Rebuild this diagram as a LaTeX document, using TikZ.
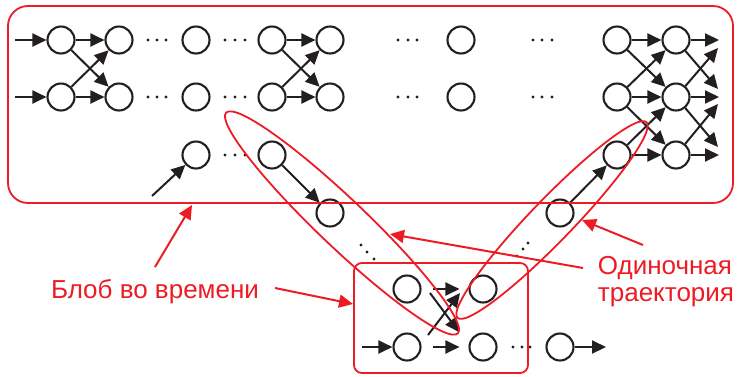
\documentclass[tikz,border=0pt]{standalone}
\usepackage{fontspec}
\setmainfont{Liberation Sans}
\usetikzlibrary{arrows.meta}
\definecolor{rd}{RGB}{237,28,36}
\definecolor{bk}{RGB}{35,31,32}
\begin{document}
\begin{tikzpicture}[x=1pt,y=-1pt,
  nd/.style={circle,draw=bk,line width=2.1pt,minimum size=27pt,inner sep=0pt},
  arr/.style={draw=bk,line width=2pt,-{Triangle[length=14pt,width=13pt]}},
  redl/.style={draw=rd,line width=1.8pt},
  redarr/.style={draw=rd,fill=rd,line width=2pt,-{Triangle[length=14pt,width=13pt]}},
  txt/.style={text=rd,font=\fontsize{26}{28}\selectfont,inner sep=0pt,anchor=base}]
\useasboundingbox (0,0) rectangle (738,376);

% nodes of the top block
\node[nd] (a1) at (61,40) {};
\node[nd] (a2) at (61,97) {};
\node[nd] (b1) at (119,40) {};
\node[nd] (b2) at (119,97) {};
\node[nd] (c1) at (196,40) {};
\node[nd] (c2) at (196,97) {};
\node[nd] (c3) at (196,155) {};
\node[nd] (d1) at (272,40) {};
\node[nd] (d2) at (272,97) {};
\node[nd] (d3) at (272,155) {};
\node[nd] (e1) at (330,40) {};
\node[nd] (e2) at (330,97) {};
\node[nd] (f1) at (461,40) {};
\node[nd] (f2) at (461,97) {};
\node[nd] (g1) at (617,40) {};
\node[nd] (g2) at (617,97) {};
\node[nd] (g3) at (617,155) {};
\node[nd] (h1) at (676,40) {};
\node[nd] (h2) at (676,97) {};
\node[nd] (h3) at (676,155) {};
% trajectory nodes
\node[nd] (t1) at (330,213) {};
\node[nd] (t2) at (560,213) {};
% lower block
\node[nd] (p1) at (407,289) {};
\node[nd] (q1) at (483,289) {};
\node[nd] (p2) at (407,347) {};
\node[nd] (q2) at (483,347) {};
\node[nd] (r2) at (560,347) {};

% free ends
\coordinate (in1) at (15,40);
\coordinate (in2) at (15,97);
\coordinate (in3) at (152,196);
\coordinate (o11) at (719,40);
\coordinate (o12) at (718,89);
\coordinate (o21) at (718,48);
\coordinate (o22) at (719,97);
\coordinate (o23) at (718,147);
\coordinate (o31) at (718,104);
\coordinate (o32) at (719,155);
\coordinate (lin) at (362,347);
\coordinate (lout) at (606,347);
\coordinate (x1) at (428,335);
\coordinate (x2) at (460,293);
\coordinate (x3) at (430,293);
\coordinate (x4) at (459,332);

% black arrows
\draw[arr] (in1) -- (a1);
\draw[arr] (in2) -- (a2);
\draw[arr] (a1) -- (b1);
\draw[arr] (a1) -- (b2);
\draw[arr] (a2) -- (b1);
\draw[arr] (a2) -- (b2);
\draw[arr] (d1) -- (e1);
\draw[arr] (d1) -- (e2);
\draw[arr] (d2) -- (e1);
\draw[arr] (d2) -- (e2);
\draw[arr] (in3) -- (c3);
\draw[arr] (d3) -- (t1);
\draw[arr] (t2) -- (g3);
\draw[arr] (g1) -- (h1);
\draw[arr] (g1) -- (h2);
\draw[arr] (g2) -- (h1);
\draw[arr] (g2) -- (h2);
\draw[arr] (g2) -- (h3);
\draw[arr] (g3) -- (h2);
\draw[arr] (g3) -- (h3);
\draw[arr] (h1) -- (o11);
\draw[arr] (h1) -- (o12);
\draw[arr] (h2) -- (o21);
\draw[arr] (h2) -- (o22);
\draw[arr] (h2) -- (o23);
\draw[arr] (h3) -- (o31);
\draw[arr] (h3) -- (o32);
\draw[arr] (lin) -- (p2);
\draw[arr,shorten <=11pt,shorten >=9pt] (p1) -- (q1);
\draw[arr,shorten <=11pt,shorten >=9pt] (p2) -- (q2);
\draw[arr] (x1) -- (x2);
\draw[arr] (x3) -- (x4);
\draw[arr] (r2) -- (lout);

% dots
\foreach \x/\y in {148/40,157/40,166/40,225/40,235/40,245/40,398/40,408/40,417/40,533/40,542/40,552/40,
                   148/97,157/97,166/97,225/97,235/97,245/97,398/97,408/97,417/97,533/97,542/97,552/97,
                   225/155,235/155,245/155,
                   361/245,367/252,374/259,528/243,523/249,517/256,
                   513/347,522/347,530/347}
  \fill[bk] (\x,\y) circle (1.7pt);

% red blobs
\draw[redl,rounded corners=20pt] (8,6) rectangle (733,203);
\draw[redl,rounded corners=8pt] (354,263) rectangle (528,373);
\draw[redl,rotate around={-43.6:(342,223)}] (342,223) ellipse [x radius=160pt,y radius=24pt];
\draw[redl,rotate around={46:(552,220)}] (552,220) ellipse [x radius=136pt,y radius=21pt];

% labels
\node[txt] (lblob) at (155,298) {Блоб во времени};
\node[txt] (ltr1) at (665,274) {Одиночная};
\node[txt] (ltr2) at (666,301) {траектория};

\coordinate (ra1s) at (155,267);
\coordinate (ra1e) at (192,205);
\coordinate (ra2s) at (275,288);
\coordinate (ra2e) at (353,304);
\coordinate (ra3s) at (643,245);
\coordinate (ra3e) at (582,220);
\coordinate (ra4s) at (583,268);
\coordinate (ra4e) at (390,234);
\draw[redarr] (ra1s) -- (ra1e);
\draw[redarr] (ra2s) -- (ra2e);
\draw[redarr] (ra3s) -- (ra3e);
\draw[redarr] (ra4s) -- (ra4e);
\end{tikzpicture}
\end{document}
